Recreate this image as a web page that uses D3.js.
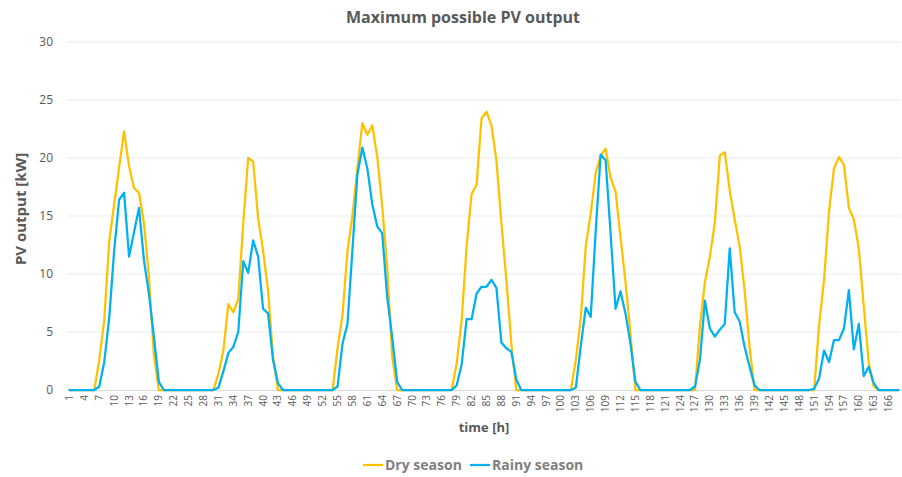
<!DOCTYPE html>
<html>
<head>
<meta charset="utf-8">
<script src="https://cdn.jsdelivr.net/npm/d3@7"></script>
<style>
  html, body { margin: 0; padding: 0; background: #fff; }
  svg { display: block; font-family: "Open Sans", "Noto Sans", sans-serif; }
</style>
</head>
<body>
<svg id="chart" width="902" height="477"></svg>
<script>
const hours = d3.range(1, 169);
const xTickLabels = d3.range(1, 169, 3);
const yTicks = [0, 5, 10, 15, 20, 25, 30];

const drySeason = [
  0,0,0,0,0,0,2.6,6.0,12.8,16.0,19.2,22.3,19.3,17.4,17.0,14.4,9.8,3.0,0,0,0,0,0,0,
  0,0,0,0,0,0,1.4,3.4,7.4,6.7,7.8,14.4,20.0,19.7,14.8,12.0,8.6,2.9,0,0,0,0,0,0,
  0,0,0,0,0,0,3.6,6.5,12.0,15.0,19.2,23.0,22.0,22.8,20.1,15.8,10.6,2.9,0,0,0,0,0,0,
  0,0,0,0,0,0,2.3,6.0,12.4,16.9,17.7,23.4,24.0,22.8,19.8,14.4,9.5,4.0,0,0,0,0,0,0,
  0,0,0,0,0,0,2.6,6.2,12.4,15.2,18.7,20.2,20.8,18.3,17.1,13.2,9.3,4.9,0,0,0,0,0,0,
  0,0,0,0,0,0,0,5.5,9.3,11.5,14.4,20.2,20.5,17.2,14.7,12.4,8.6,3.7,0,0,0,0,0,0,
  0,0,0,0,0,0,0,5.6,9.5,15.4,19.1,20.1,19.4,15.7,14.7,12.2,7.2,2.4,0.3,0,0,0,0,0
];

const rainySeason = [
  0,0,0,0,0,0,0.3,2.4,6.2,12.0,16.4,17.0,11.5,13.6,15.7,11.2,8.3,4.6,0.7,0,0,0,0,0,
  0,0,0,0,0,0,0.2,1.6,3.2,3.7,5.0,11.1,10.1,12.9,11.5,7.0,6.6,2.6,0.6,0,0,0,0,0,
  0,0,0,0,0,0,0.3,4.0,5.7,12.1,18.6,20.9,19.1,16.0,14.1,13.5,8.0,4.6,0.7,0,0,0,0,0,
  0,0,0,0,0,0,0.4,2.2,6.1,6.1,8.3,8.9,8.9,9.5,8.8,4.1,3.6,3.3,0.9,0,0,0,0,0,
  0,0,0,0,0,0,0.2,3.8,7.1,6.3,13.7,20.3,19.8,13.5,7.0,8.5,6.6,4.0,0.7,0,0,0,0,0,
  0,0,0,0,0,0,0.3,2.6,7.7,5.3,4.6,5.2,5.7,12.2,6.7,5.9,3.7,2.0,0.4,0,0,0,0,0,
  0,0,0,0,0,0,0.1,1.0,3.4,2.4,4.3,4.3,5.3,8.6,3.5,5.7,1.2,2.0,0.6,0,0,0,0,0
];

const seriesNames = ["Dry season", "Rainy season"];
const seriesColors = ["#FFC000", "#00B0F0"];

const svg = d3.select("#chart");
const textColor = "#595959";

const x = d3.scaleBand().domain(hours).range([67, 901]).padding(0);
const cx = h => x(h) + x.bandwidth() / 2;
const y = d3.scaleLinear().domain([0, 30]).range([390, 42]);

// gridlines
svg.append("g")
  .selectAll("line")
  .data(yTicks.filter(t => t > 0))
  .join("line")
  .attr("x1", 67).attr("x2", 901)
  .attr("y1", d => y(d)).attr("y2", d => y(d))
  .attr("stroke", "#ececec").attr("stroke-width", 1);

// y axis
const yAxis = d3.axisLeft(y).tickValues(yTicks).tickSize(0).tickPadding(14);
const gy = svg.append("g").attr("transform", "translate(67,0)").call(yAxis);
gy.select(".domain").remove();
gy.selectAll("text").attr("fill", textColor).style("font-size", "12px")
  .style("font-family", "'Open Sans', sans-serif");

// x axis
const xAxis = d3.axisBottom(x).tickValues(xTickLabels).tickSize(0).tickPadding(0);
const gx = svg.append("g").attr("transform", "translate(0,390)").call(xAxis);
gx.select(".domain").attr("stroke", "#d9d9d9").attr("stroke-width", 1);
gx.selectAll("text")
  .attr("fill", textColor)
  .style("font-size", "10px")
  .style("font-family", "'Open Sans', sans-serif")
  .attr("transform", "rotate(-90)")
  .attr("text-anchor", "end")
  .attr("x", -5)
  .attr("y", 0)
  .attr("dy", "0.35em");

// lines
const line = d3.line().x((d, i) => cx(hours[i])).y(d => y(d));
[drySeason, rainySeason].forEach((data, k) => {
  svg.append("path")
    .datum(data)
    .attr("d", line)
    .attr("fill", "none")
    .attr("stroke", seriesColors[k])
    .attr("stroke-width", 2.25)
    .attr("stroke-linejoin", "round")
    .attr("stroke-linecap", "round");
});

// title
svg.append("text")
  .attr("x", 463).attr("y", 23)
  .attr("text-anchor", "middle")
  .attr("fill", textColor)
  .style("font-size", "16px").style("font-weight", "bold")
  .text("Maximum possible PV output");

// y label
svg.append("text")
  .attr("transform", "translate(26,209) rotate(-90)")
  .attr("text-anchor", "middle")
  .attr("fill", textColor)
  .style("font-size", "15px").style("font-weight", "bold")
  .text("PV output [kW]");

// x label
svg.append("text")
  .attr("x", 484).attr("y", 432)
  .attr("text-anchor", "middle")
  .attr("fill", textColor)
  .style("font-size", "13px").style("font-weight", "bold")
  .text("time [h]");

// legend
const legendItems = [
  { name: seriesNames[0], color: seriesColors[0], x: 363 },
  { name: seriesNames[1], color: seriesColors[1], x: 470 }
];
const lg = svg.append("g");
legendItems.forEach(it => {
  lg.append("line")
    .attr("x1", it.x).attr("x2", it.x + 20)
    .attr("y1", 465).attr("y2", 465)
    .attr("stroke", it.color).attr("stroke-width", 2.25);
  lg.append("text")
    .attr("x", it.x + 22).attr("y", 470)
    .attr("fill", "#7f7f7f")
    .style("font-size", "14px").style("font-weight", "bold")
    .text(it.name);
});
</script>
</body>
</html>
